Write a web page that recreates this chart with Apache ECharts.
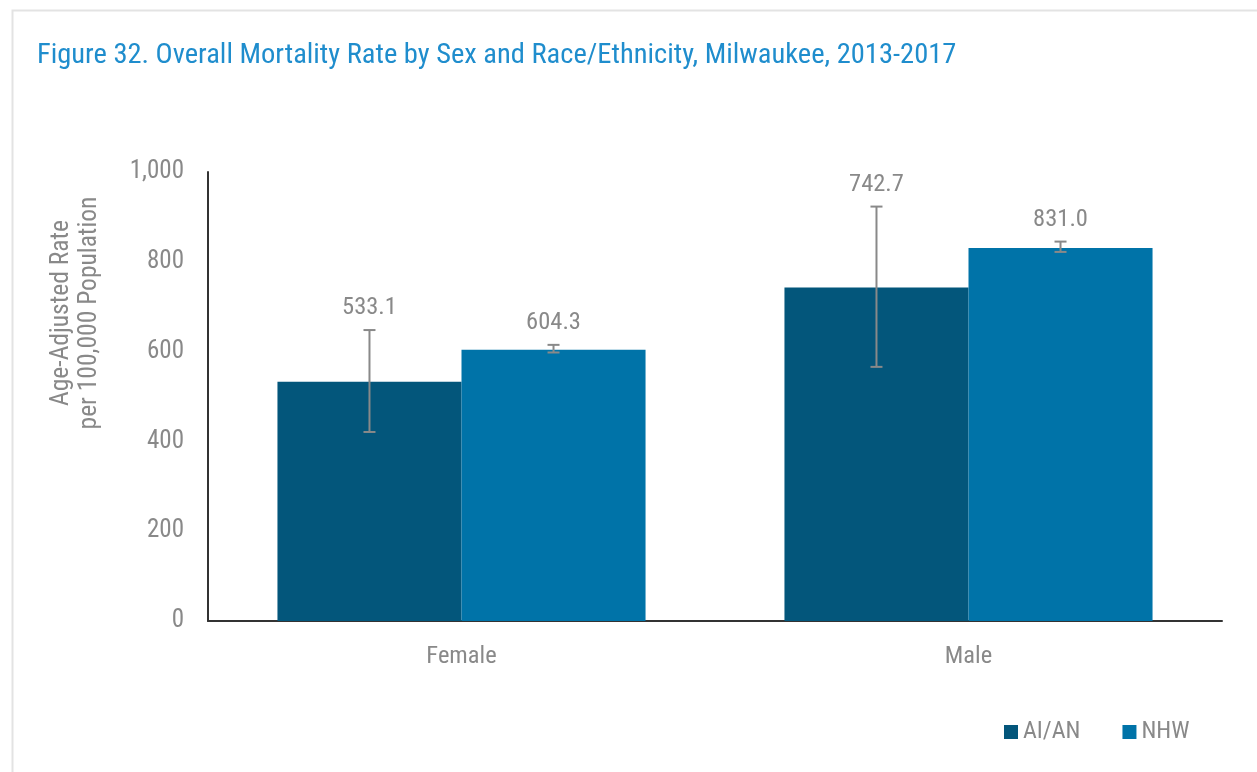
<!DOCTYPE html>
<html>
<head>
<meta charset="utf-8">
<script src="https://cdn.jsdelivr.net/npm/echarts@6/dist/echarts.min.js"></script>
<style>
html,body{margin:0;padding:0;background:#fff;}
#chart{width:1257px;height:772px;}
</style>
</head>
<body>
<div id="chart"></div>
<script>
const categories = ['Female', 'Male'];
const seriesNames = ['AI/AN', 'NHW'];
const aianValues = [533.1, 742.7];
const nhwValues = [604.3, 831.0];
const aianLow = [421, 566];
const aianHigh = [648, 923];
const nhwLow = [598, 822];
const nhwHigh = [615, 845];
const yTicks = [0, 200, 400, 600, 800, 1000];
const yAxisTitle = 'Age-Adjusted Rate\nper 100,000 Population';

const FONT = "'Roboto Condensed', 'Liberation Sans Narrow', sans-serif";
const GRAY = '#898989';
const COLORS = ['#03567b', '#0073a8'];
const GAP = 0.274;

function errData(low, high, vals) {
  return categories.map((c, i) => [i, low[i], high[i], vals[i]]);
}

function makeRender(sideIndex) {
  return function (params, api) {
    const idx = api.value(0);
    const low = api.value(1), high = api.value(2), v = api.value(3);
    const band = api.size([1, 0])[0];
    const bw = band * (1 - GAP) / 2;
    const center = api.coord([idx, 0])[0];
    const x = center + (sideIndex === 0 ? -bw / 2 : bw / 2);
    const yLow = api.coord([idx, low])[1];
    const yHigh = api.coord([idx, high])[1];
    const cap = 6;
    const st = { stroke: GRAY, lineWidth: 2 };
    return {
      type: 'group',
      children: [
        { type: 'line', shape: { x1: x, y1: yLow, x2: x, y2: yHigh }, style: st },
        { type: 'line', shape: { x1: x - cap, y1: yLow, x2: x + cap, y2: yLow }, style: st },
        { type: 'line', shape: { x1: x - cap, y1: yHigh, x2: x + cap, y2: yHigh }, style: st },
        { type: 'text', x: x, y: yHigh - 22,
          style: { text: v.toFixed(1), fill: GRAY, font: '24.5px ' + FONT, textAlign: 'center', textVerticalAlign: 'middle' } }
      ]
    };
  };
}

const chart = echarts.init(document.getElementById('chart'));
chart.setOption({
  backgroundColor: '#fff',
  animation: false,
  title: {
    text: 'Figure 32. Overall Mortality Rate by Sex and Race/Ethnicity, Milwaukee, 2013-2017',
    left: 32, top: 36,
    textStyle: { color: '#1f8dcd', fontFamily: FONT, fontSize: 28.5, fontWeight: 'normal' }
  },
  graphic: [{
    type: 'rect', left: 10, top: 8, z: -10,
    shape: { x: 0, y: 0, width: 1270, height: 800 },
    style: { fill: 'none', stroke: '#e3e3e3', lineWidth: 2 }
  }, {
    type: 'text', x: 76, y: 313, rotation: Math.PI / 2,
    style: { text: yAxisTitle, fill: GRAY, font: '25.5px ' + FONT, lineHeight: 28,
      textAlign: 'center', textVerticalAlign: 'middle' }
  }],
  legend: {
    data: seriesNames,
    left: 999, top: 715,
    itemWidth: 14, itemHeight: 14, itemGap: 42,
    icon: 'rect',
    textStyle: { color: GRAY, fontFamily: FONT, fontSize: 24 }
  },
  grid: { left: 208, right: 35, top: 172, bottom: 151, containLabel: false },
  xAxis: {
    type: 'category',
    data: categories,
    axisLine: { show: true, lineStyle: { color: '#333', width: 2 } },
    axisTick: { show: false },
    axisLabel: { color: GRAY, fontFamily: FONT, fontSize: 24.5, margin: 23 }
  },
  yAxis: {
    type: 'value',
    min: yTicks[0], max: yTicks[yTicks.length - 1], interval: 200,
    axisLine: { show: true, lineStyle: { color: '#333', width: 2 } },
    axisTick: { show: false },
    splitLine: { show: false },
    axisLabel: {
      color: GRAY, fontFamily: FONT, fontSize: 25, margin: 24,
      formatter: v => v.toLocaleString('en-US')
    }
  },
  series: [
    { name: seriesNames[0], type: 'bar', data: aianValues, barGap: '0%', barCategoryGap: (GAP * 100) + '%',
      itemStyle: { color: COLORS[0] } },
    { name: seriesNames[1], type: 'bar', data: nhwValues, barGap: '0%', barCategoryGap: (GAP * 100) + '%',
      itemStyle: { color: COLORS[1] } },
    { type: 'custom', name: 'errA', renderItem: makeRender(0), data: errData(aianLow, aianHigh, aianValues), z: 10,
      encode: { x: 0, y: [1, 2] } },
    { type: 'custom', name: 'errN', renderItem: makeRender(1), data: errData(nhwLow, nhwHigh, nhwValues), z: 10,
      encode: { x: 0, y: [1, 2] } }
  ]
});
</script>
</body>
</html>
